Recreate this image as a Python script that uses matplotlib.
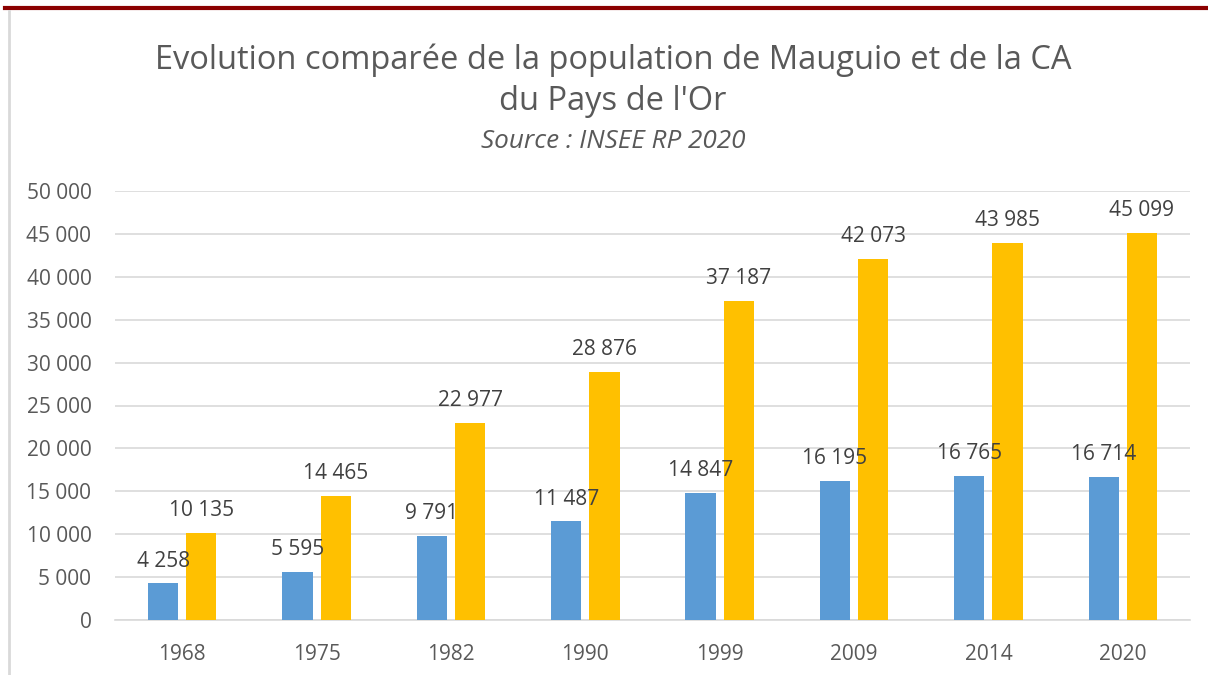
import matplotlib
matplotlib.use("Agg")
import matplotlib.pyplot as plt
import numpy as np
from matplotlib.ticker import FuncFormatter
from matplotlib.lines import Line2D

years = ["1968", "1975", "1982", "1990", "1999", "2009", "2014", "2020"]
mauguio = [4258, 5595, 9791, 11487, 14847, 16195, 16765, 16714]
ca_pays_or = [10135, 14465, 22977, 28876, 37187, 42073, 43985, 45099]
yticks = [0, 5000, 10000, 15000, 20000, 25000, 30000, 35000, 40000, 45000, 50000]

plt.rcParams['font.family'] = ['Open Sans', 'DejaVu Sans']
TXT = '#595959'

def fmt(v):
    return f"{int(v):,}".replace(",", " ")

fig = plt.figure(figsize=(12.08, 6.75), dpi=100)
W, H = 1208, 675
ax = fig.add_axes([115 / W, 1 - 620 / H, (1190 - 115) / W, (620 - 191) / H])

x = np.arange(len(years))
bw = 0.225
off = 0.142
ax.bar(x - off, mauguio, width=bw, color='#5B9BD5', zorder=3)
ax.bar(x + off, ca_pays_or, width=bw, color='#FFC000', zorder=3)

for xi, v in zip(x, mauguio):
    ax.annotate(fmt(v), (xi - off, v), xytext=(0, 8.5), textcoords='offset points',
                ha='center', va='bottom', fontsize=15, color='#404040', zorder=4)
for xi, v in zip(x, ca_pays_or):
    ax.annotate(fmt(v), (xi + off, v), xytext=(0, 8.5), textcoords='offset points',
                ha='center', va='bottom', fontsize=15, color='#404040', zorder=4)

ax.set_xlim(-0.5, len(years) - 0.5)
ax.set_ylim(0, 50000)
ax.set_yticks(yticks)
ax.yaxis.set_major_formatter(FuncFormatter(lambda v, p: fmt(v)))
ax.set_xticks(x)
ax.set_xticklabels(years)
ax.tick_params(axis='both', length=0, labelsize=15, labelcolor=TXT)
ax.tick_params(axis='y', pad=17)
ax.tick_params(axis='x', pad=17)
ax.grid(axis='y', color='#D9D9D9', linewidth=1.2, zorder=0)
for s in ['top', 'right', 'left']:
    ax.spines[s].set_visible(False)
ax.spines['bottom'].set_color('#D9D9D9')
ax.spines['bottom'].set_linewidth(1.2)

fig.text(613 / W, 1 - 60 / H, "Evolution comparée de la population de Mauguio et de la CA",
         ha='center', va='center', fontsize=23.5, color=TXT)
fig.text(613 / W, 1 - 102 / H, "du Pays de l'Or", ha='center', va='center', fontsize=23.5, color=TXT)
fig.text(613 / W, 1 - 141 / H, "Source : INSEE RP 2020", ha='center', va='center',
         fontsize=18.8, color=TXT, style='italic')

fig.add_artist(Line2D([5 / W, 1], [1 - 7.5 / H, 1 - 7.5 / H], color='#8B0000', linewidth=3,
                      transform=fig.transFigure))
fig.add_artist(Line2D([9 / W, 9 / W], [0, 1 - 11 / H], color='#D9D9D9', linewidth=2,
                      transform=fig.transFigure))

fig.savefig("out.png", dpi=100)
